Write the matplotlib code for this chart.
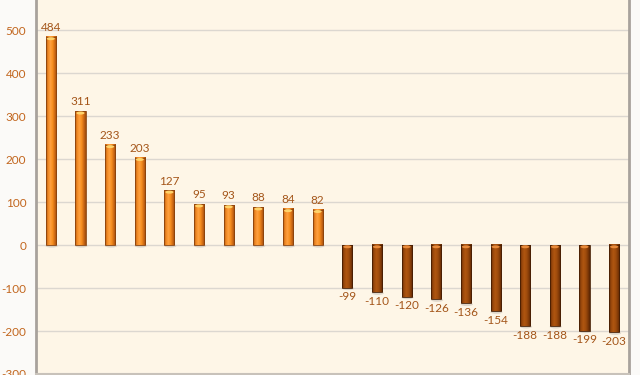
import numpy as np
import matplotlib
matplotlib.use("Agg")
import matplotlib.pyplot as plt
from matplotlib.patches import Ellipse
from matplotlib.colors import LinearSegmentedColormap

values = [484, 311, 233, 203, 127, 95, 93, 88, 84, 82,
          -99, -110, -120, -126, -136, -154, -188, -188, -199, -203]
yticks = [-300, -200, -100, 0, 100, 200, 300, 400, 500]

plt.rcParams['font.family'] = ['Lato', 'DejaVu Sans']

fig = plt.figure(figsize=(6.4, 3.75), dpi=100, facecolor='#FBFAF8')
ax = fig.add_axes([36/640, 1/375, 593/640, 374/375])
ax.set_facecolor('#FEF6E7')

x = np.arange(len(values))
w = 0.34
ax.set_xlim(-0.5, len(values) - 0.5)
ax.set_ylim(-300, 570)

for yv in yticks:
    ax.axhline(yv, color='#DCD7D0', lw=1.0, zorder=1)

pos_cmap = LinearSegmentedColormap.from_list('p', ['#B85A12', '#F08A24', '#FFA040', '#F7901F', '#D06A14', '#9A4A0C'])
neg_cmap = LinearSegmentedColormap.from_list('n', ['#6A2E06', '#9A480C', '#B05610', '#A24E0E', '#843C08', '#582503'])
grad = np.linspace(0, 1, 64).reshape(1, -1)

bars = ax.bar(x, values, width=w, color='none', edgecolor='none', zorder=3)
for b, v in zip(bars, values):
    x0 = b.get_x(); bw = b.get_width()
    cmap = pos_cmap if v > 0 else neg_cmap
    lo, hi = (0, v) if v > 0 else (v, 0)
    ax.add_patch(Ellipse((x0 + bw/2 + 0.03, lo - 2), bw*1.2, 8,
                         color='#C9C2B8', alpha=0.6, zorder=2, lw=0))
    ax.imshow(grad, cmap=cmap, aspect='auto', extent=[x0, x0 + bw, lo, hi],
              zorder=3, interpolation='bilinear')
    ax.add_patch(plt.Rectangle((x0, lo), bw, hi - lo, fill=False,
                               edgecolor='#8A420C' if v > 0 else '#461E03', lw=0.6, zorder=4))
    capc = '#FFD36A' if v > 0 else '#E98A3A'
    ax.add_patch(Ellipse((x0 + bw/2, hi - 4), bw*0.8, 7,
                         color=capc, zorder=5, lw=0))
    if v > 0:
        ax.text(x0 + bw/2, v + 9, f"{v}", ha='center', va='bottom',
                fontsize=8.5, color='#A4561A', zorder=6)
    else:
        ax.text(x0 + bw/2, v - 9, f"{v}", ha='center', va='top',
                fontsize=8.5, color='#A4561A', zorder=6)

ax.set_yticks(yticks)
ax.set_yticklabels([str(t) for t in yticks])
ax.tick_params(axis='y', length=0, labelsize=8.5, labelcolor='#C2661E', pad=7)
ax.set_xticks([])
ax.spines['top'].set_visible(False)
ax.spines['left'].set_color('#A8A29C')
ax.spines['left'].set_linewidth(2)
ax.spines['right'].set_color('#A8A29C')
ax.spines['right'].set_linewidth(2)
ax.spines['bottom'].set_color('#C8C2BA')
ax.spines['bottom'].set_linewidth(1.5)

fig.savefig('out.png', dpi=100, facecolor=fig.get_facecolor())
